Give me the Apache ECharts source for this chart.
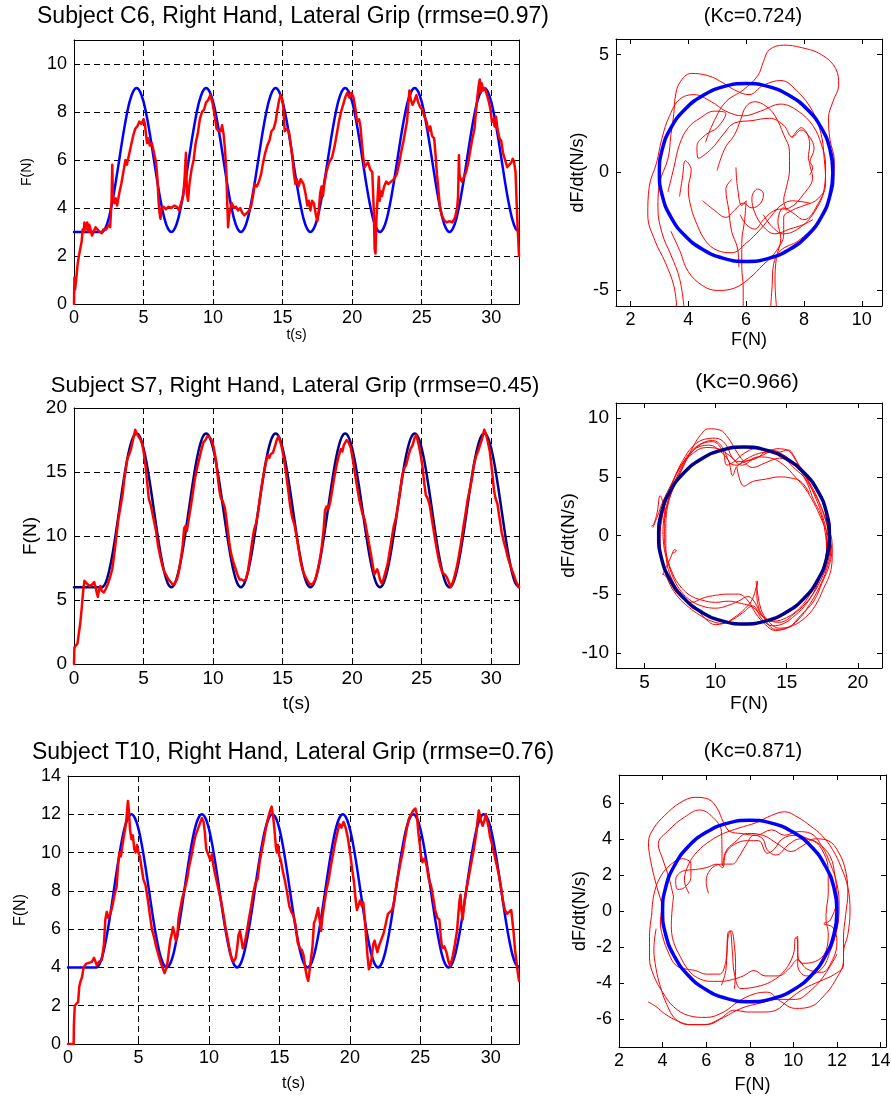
<!DOCTYPE html>
<html>
<head>
<meta charset="utf-8">
<title>Grip force tracking</title>
<script src="https://cdn.jsdelivr.net/npm/echarts@6/dist/echarts.min.js"></script>
<style>
  html, body { margin: 0; padding: 0; background: #fff; }
  #chart { width: 891px; height: 1101px; }
</style>
</head>
<body>
<div id="chart"></div>
<script>
// ---------- data ----------
const timeStep = 0.25; // sampling interval of the target traces (s)

// Target force, subject C6 (N), sampled every timeStep from t = 0
const targetC6 = [
  3,3,3,3,3,3,3,3,
  3,3.15,3.57,4.24,5.07,6,6.93,7.76,8.43,8.85,9,8.85,8.43,7.76,6.93,6,5.07,4.24,3.57,3.15,
  3,3.15,3.57,4.24,5.07,6,6.93,7.76,8.43,8.85,9,8.85,8.43,7.76,6.93,6,5.07,4.24,3.57,3.15,
  3,3.15,3.57,4.24,5.07,6,6.93,7.76,8.43,8.85,9,8.85,8.43,7.76,6.93,6,5.07,4.24,3.57,3.15,
  3,3.15,3.57,4.24,5.07,6,6.93,7.76,8.43,8.85,9,8.85,8.43,7.76,6.93,6,5.07,4.24,3.57,3.15,
  3,3.15,3.57,4.24,5.07,6,6.93,7.76,8.43,8.85,9,8.85,8.43,7.76,6.93,6,5.07,4.24,3.57,3.15,
  3,3.15,3.57,4.24,5.07,6,6.93,7.76,8.43,8.85,9,8.85,8.43,7.76,6.93,6,5.07,4.24,3.57,3.15,
  3
];
// Measured force, subject C6: [t (s), F (N)]
const forceC6 = [
  [0,0],[0.03,1.1],[0.08,0.6],[0.15,1.0],[0.25,1.6],[0.35,2.0],[0.45,2.3],[0.55,2.6],[0.62,3.1],[0.7,3.0],[0.75,3.4],[0.85,3.1],[0.95,3.4],[1.05,3.0],[1.1,3.3],[1.2,3.1],[1.3,2.85],[1.4,3.0],[1.55,3.2],[1.7,3.1],[1.85,3.0],[2.0,2.95],[2.1,3.1],[2.3,3.1],[2.5,3.3],[2.6,3.2],[2.7,4.3],[2.75,5.8],[2.8,4.5],[2.9,4.2],[3.0,4.4],[3.1,4.1],[3.25,4.6],[3.4,5.0],[3.55,5.5],[3.7,6.0],[3.8,5.8],[3.95,6.2],[4.1,6.6],[4.25,7.0],[4.4,7.3],[4.55,7.4],[4.7,7.6],[4.85,7.5],[5.0,7.7],[5.1,7.5],[5.15,7.2],[5.25,6.7],[5.35,6.9],[5.45,6.6],[5.6,6.7],[5.75,6.3],[5.9,5.9],[6.0,5.2],[6.08,4.3],[6.15,3.8],[6.22,3.55],[6.3,4.0],[6.45,4.05],[6.6,3.95],[6.8,4.05],[7.0,4.0],[7.2,4.1],[7.4,4.05],[7.55,3.9],[7.7,4.2],[7.85,4.5],[7.95,5.2],[8.05,6.3],[8.12,4.6],[8.2,4.3],[8.3,5.0],[8.45,5.6],[8.6,6.0],[8.75,6.7],[8.9,7.1],[9.05,7.7],[9.2,8.0],[9.35,8.1],[9.5,8.4],[9.65,8.5],[9.8,8.7],[9.95,8.4],[10.1,7.9],[10.25,7.3],[10.4,7.2],[10.55,7.2],[10.65,7.45],[10.75,7.1],[10.85,6.5],[10.95,5.6],[11.02,4.2],[11.08,3.2],[11.15,3.7],[11.25,4.0],[11.35,4.2],[11.5,4.0],[11.65,4.05],[11.8,3.9],[11.95,4.0],[12.1,3.8],[12.25,3.7],[12.45,3.8],[12.6,3.9],[12.75,4.1],[12.9,4.6],[13.0,5.0],[13.15,4.9],[13.3,5.1],[13.45,5.4],[13.6,5.9],[13.75,6.3],[13.9,6.6],[14.05,6.8],[14.2,7.2],[14.35,7.3],[14.5,7.6],[14.6,8.0],[14.75,8.5],[14.85,8.7],[14.95,8.6],[15.05,8.2],[15.15,7.2],[15.3,7.3],[15.45,7.2],[15.6,6.6],[15.72,6.0],[15.82,5.4],[15.92,5.0],[16.02,5.2],[16.15,4.9],[16.3,5.2],[16.5,5.0],[16.65,4.6],[16.78,4.1],[16.88,4.3],[17.0,3.9],[17.12,4.3],[17.25,4.2],[17.4,3.7],[17.5,3.45],[17.6,3.9],[17.7,4.6],[17.8,4.9],[17.9,4.5],[18.0,5.0],[18.15,5.5],[18.35,5.9],[18.55,6.1],[18.75,6.6],[18.9,7.1],[19.05,7.6],[19.2,8.0],[19.35,8.3],[19.5,8.6],[19.65,8.8],[19.8,8.6],[19.95,8.8],[20.1,8.6],[20.25,8.1],[20.35,7.6],[20.5,7.7],[20.6,7.4],[20.7,6.7],[20.8,6.1],[20.9,5.7],[21.0,5.8],[21.15,5.9],[21.3,5.6],[21.45,5.5],[21.55,4.0],[21.62,2.3],[21.68,2.1],[21.75,3.6],[21.85,4.6],[21.92,5.3],[21.98,4.3],[22.05,4.7],[22.15,4.5],[22.3,4.9],[22.45,5.1],[22.6,5.0],[22.8,5.1],[23.0,5.2],[23.2,5.4],[23.4,5.9],[23.55,6.4],[23.7,6.8],[23.85,7.3],[23.95,7.6],[24.05,8.4],[24.12,8.9],[24.22,8.5],[24.35,8.3],[24.5,8.5],[24.62,8.7],[24.75,8.4],[24.9,8.2],[25.05,8.1],[25.2,7.8],[25.35,7.6],[25.5,7.2],[25.62,7.4],[25.75,7.0],[25.9,6.9],[26.0,6.2],[26.1,5.4],[26.2,4.8],[26.3,4.1],[26.45,3.7],[26.6,3.5],[26.8,3.4],[27.0,3.45],[27.2,3.4],[27.4,3.6],[27.55,4.0],[27.62,4.5],[27.68,6.2],[27.72,5.4],[27.8,5.2],[27.9,5.1],[28.05,5.3],[28.2,5.5],[28.35,5.9],[28.5,6.4],[28.65,6.9],[28.8,7.3],[28.9,8.0],[29.0,8.6],[29.1,9.1],[29.18,9.35],[29.25,8.8],[29.32,9.2],[29.42,8.9],[29.55,9.0],[29.65,8.8],[29.8,8.5],[29.95,8.1],[30.05,7.6],[30.15,7.7],[30.25,7.4],[30.35,7.8],[30.45,7.3],[30.6,6.9],[30.72,6.8],[30.85,6.3],[31.0,6.0],[31.15,5.7],[31.3,5.8],[31.45,5.9],[31.55,6.05],[31.65,5.9],[31.75,5.5],[31.82,4.4],[31.9,3.2],[31.96,2.5],[32,2.0]
];

// Target force, subject S7 (N)
const targetS7 = [
  6,6,6,6,6,6,6,6,
  6,6.29,7.15,8.47,10.15,12,13.85,15.53,16.85,17.71,18,17.71,16.85,15.53,13.85,12,10.15,8.47,7.15,6.29,
  6,6.29,7.15,8.47,10.15,12,13.85,15.53,16.85,17.71,18,17.71,16.85,15.53,13.85,12,10.15,8.47,7.15,6.29,
  6,6.29,7.15,8.47,10.15,12,13.85,15.53,16.85,17.71,18,17.71,16.85,15.53,13.85,12,10.15,8.47,7.15,6.29,
  6,6.29,7.15,8.47,10.15,12,13.85,15.53,16.85,17.71,18,17.71,16.85,15.53,13.85,12,10.15,8.47,7.15,6.29,
  6,6.29,7.15,8.47,10.15,12,13.85,15.53,16.85,17.71,18,17.71,16.85,15.53,13.85,12,10.15,8.47,7.15,6.29,
  6,6.29,7.15,8.47,10.15,12,13.85,15.53,16.85,17.71,18,17.71,16.85,15.53,13.85,12,10.15,8.47,7.15,6.29,
  6
];
// Measured force, subject S7: [t (s), F (N)]
const forceS7 = [
  [0,0],[0.03,1.3],[0.12,1.35],[0.25,1.6],[0.35,2.4],[0.45,3.2],[0.55,4.3],[0.65,5.6],[0.75,6.5],[0.85,6.45],[1.0,6.2],[1.15,6.1],[1.3,6.2],[1.45,6.4],[1.55,6.0],[1.65,5.5],[1.72,5.25],[1.8,5.8],[1.9,6.1],[2.0,5.7],[2.15,5.6],[2.3,5.9],[2.45,6.3],[2.6,6.8],[2.75,7.4],[2.9,8.6],[3.05,10.0],[3.2,11.4],[3.35,12.3],[3.5,13.3],[3.62,14.5],[3.75,15.4],[3.85,16.1],[3.98,16.4],[4.1,16.8],[4.2,17.3],[4.3,17.8],[4.4,18.3],[4.5,18.0],[4.62,17.8],[4.75,17.6],[4.9,17.2],[5.02,16.5],[5.15,15.4],[5.28,14.0],[5.38,12.9],[5.5,12.5],[5.62,11.9],[5.75,11.2],[5.9,10.4],[6.05,9.2],[6.2,8.4],[6.35,7.7],[6.5,7.2],[6.65,6.9],[6.8,6.6],[6.95,6.4],[7.1,6.2],[7.25,6.3],[7.4,6.6],[7.55,7.3],[7.7,8.3],[7.82,9.3],[7.92,10.6],[8.02,10.8],[8.12,10.4],[8.25,11.3],[8.4,12.3],[8.55,13.4],[8.7,14.5],[8.85,15.3],[9.0,16.0],[9.15,16.7],[9.3,17.3],[9.45,17.5],[9.6,17.8],[9.75,17.7],[9.9,17.5],[10.05,16.9],[10.2,16.0],[10.32,14.8],[10.45,13.6],[10.55,13.0],[10.7,12.7],[10.85,12.2],[11.0,11.0],[11.15,9.6],[11.3,8.6],[11.45,8.0],[11.6,7.5],[11.75,7.0],[11.9,6.6],[12.05,6.6],[12.2,6.5],[12.35,6.6],[12.5,7.2],[12.65,8.3],[12.8,9.5],[12.95,10.5],[13.1,11.0],[13.25,12.0],[13.4,13.2],[13.55,14.3],[13.7,15.2],[13.85,16.0],[13.95,16.3],[14.05,16.1],[14.15,16.4],[14.3,16.5],[14.45,17.0],[14.55,17.4],[14.7,17.8],[14.82,17.4],[14.95,16.9],[15.1,16.0],[15.25,14.9],[15.4,13.6],[15.55,12.3],[15.7,11.4],[15.85,10.9],[16.0,10.0],[16.15,9.0],[16.3,8.0],[16.45,7.3],[16.6,6.9],[16.75,6.6],[16.9,6.3],[17.05,6.2],[17.2,6.3],[17.35,6.6],[17.5,7.2],[17.65,8.0],[17.8,9.0],[17.95,10.5],[18.05,12.0],[18.15,12.3],[18.3,12.1],[18.45,12.8],[18.6,13.8],[18.75,14.8],[18.9,15.6],[19.05,16.3],[19.2,16.8],[19.3,16.6],[19.4,17.1],[19.5,17.3],[19.6,17.5],[19.75,17.3],[19.9,16.9],[20.05,16.0],[20.2,14.9],[20.35,13.9],[20.5,12.9],[20.62,12.3],[20.75,11.7],[20.9,11.3],[21.05,10.4],[21.2,9.5],[21.35,8.6],[21.5,7.6],[21.6,7.0],[21.7,6.9],[21.8,7.4],[21.9,7.1],[22.0,6.6],[22.12,6.3],[22.25,6.6],[22.4,7.2],[22.55,7.8],[22.7,8.8],[22.85,9.8],[23.0,10.8],[23.15,11.4],[23.3,12.4],[23.45,13.5],[23.6,14.7],[23.75,15.3],[23.9,15.6],[24.05,16.3],[24.2,16.8],[24.35,17.1],[24.5,17.7],[24.62,17.9],[24.75,17.3],[24.9,16.5],[25.05,15.5],[25.2,14.0],[25.3,13.2],[25.45,12.9],[25.6,12.3],[25.75,11.2],[25.9,10.2],[26.05,9.2],[26.2,8.3],[26.35,7.6],[26.5,7.1],[26.65,7.0],[26.8,6.8],[26.95,6.4],[27.1,6.0],[27.25,6.4],[27.4,7.0],[27.55,7.7],[27.7,8.6],[27.85,9.6],[28.0,10.7],[28.15,11.7],[28.3,12.8],[28.45,13.6],[28.6,14.4],[28.75,15.5],[28.9,16.2],[29.05,16.6],[29.2,17.1],[29.35,17.6],[29.5,18.3],[29.62,18.0],[29.75,17.4],[29.9,16.6],[30.05,15.2],[30.2,13.6],[30.3,13.0],[30.45,12.5],[30.6,11.4],[30.75,10.3],[30.9,9.6],[31.05,9.0],[31.2,8.3],[31.35,7.8],[31.5,7.3],[31.65,6.9],[31.8,6.4],[32,6.0]
];

// Target force, subject T10 (N)
const targetT10 = [
  4,4,4,4,4,4,4,4,
  4,4.2,4.76,5.65,6.76,8,9.24,10.35,11.24,11.8,12,11.8,11.24,10.35,9.24,8,6.76,5.65,4.76,4.2,
  4,4.2,4.76,5.65,6.76,8,9.24,10.35,11.24,11.8,12,11.8,11.24,10.35,9.24,8,6.76,5.65,4.76,4.2,
  4,4.2,4.76,5.65,6.76,8,9.24,10.35,11.24,11.8,12,11.8,11.24,10.35,9.24,8,6.76,5.65,4.76,4.2,
  4,4.2,4.76,5.65,6.76,8,9.24,10.35,11.24,11.8,12,11.8,11.24,10.35,9.24,8,6.76,5.65,4.76,4.2,
  4,4.2,4.76,5.65,6.76,8,9.24,10.35,11.24,11.8,12,11.8,11.24,10.35,9.24,8,6.76,5.65,4.76,4.2,
  4,4.2,4.76,5.65,6.76,8,9.24,10.35,11.24,11.8,12,11.8,11.24,10.35,9.24,8,6.76,5.65,4.76,4.2,
  4
];
// Measured force, subject T10: [t (s), F (N)]
const forceT10 = [
  [0,0],[0.4,0],[0.42,1.0],[0.48,2.0],[0.6,2.1],[0.72,2.2],[0.8,3.0],[0.9,3.3],[1.0,3.5],[1.1,4.0],[1.2,3.9],[1.3,4.2],[1.4,4.1],[1.55,4.25],[1.7,4.3],[1.85,4.5],[1.95,4.3],[2.05,4.1],[2.2,4.3],[2.4,4.4],[2.55,5.2],[2.65,6.5],[2.75,6.9],[2.85,6.6],[3.0,6.8],[3.15,7.2],[3.3,7.8],[3.45,8.2],[3.55,9.3],[3.65,10.0],[3.75,9.8],[3.85,10.3],[3.95,10.8],[4.05,11.2],[4.15,11.8],[4.25,12.7],[4.32,12.2],[4.4,11.2],[4.5,10.7],[4.6,10.9],[4.7,10.2],[4.8,10.0],[4.9,10.4],[5.0,10.0],[5.1,9.8],[5.2,9.3],[5.35,8.6],[5.5,8.3],[5.65,7.6],[5.8,6.8],[5.95,6.0],[6.1,5.6],[6.25,5.1],[6.4,4.7],[6.55,4.3],[6.7,4.0],[6.85,3.7],[6.95,3.9],[7.05,4.2],[7.15,4.8],[7.25,5.4],[7.35,5.7],[7.45,6.1],[7.55,5.8],[7.65,5.4],[7.75,5.6],[7.85,6.6],[7.95,7.0],[8.1,7.6],[8.25,8.0],[8.45,8.6],[8.6,9.3],[8.75,9.8],[8.9,10.4],[9.05,10.9],[9.2,11.2],[9.35,11.5],[9.5,11.8],[9.62,11.6],[9.72,11.0],[9.8,10.2],[9.9,10.0],[10.0,9.8],[10.1,9.6],[10.2,9.9],[10.3,9.4],[10.4,9.0],[10.55,8.5],[10.7,8.0],[10.85,7.5],[11.0,6.9],[11.15,6.2],[11.3,5.6],[11.45,5.0],[11.6,4.5],[11.75,4.3],[11.9,4.5],[12.0,5.0],[12.1,5.7],[12.2,5.9],[12.3,5.5],[12.4,5.0],[12.55,5.3],[12.7,5.9],[12.85,6.6],[13.0,7.2],[13.15,7.9],[13.3,8.4],[13.45,8.6],[13.6,9.5],[13.75,10.1],[13.9,10.7],[14.05,11.3],[14.2,11.8],[14.35,12.2],[14.45,12.4],[14.55,11.9],[14.65,11.2],[14.75,10.3],[14.82,10.0],[14.9,10.4],[15.0,9.8],[15.1,9.6],[15.25,9.0],[15.4,8.5],[15.55,7.9],[15.7,7.2],[15.85,6.9],[16.0,6.7],[16.15,6.2],[16.3,5.3],[16.45,5.0],[16.6,4.9],[16.72,4.6],[16.85,3.9],[16.95,3.5],[17.05,3.3],[17.15,3.9],[17.25,4.5],[17.35,5.1],[17.45,6.3],[17.55,6.5],[17.65,6.8],[17.75,7.1],[17.85,6.5],[17.95,5.9],[18.05,6.6],[18.2,7.4],[18.35,8.1],[18.5,8.6],[18.65,9.3],[18.8,9.9],[18.95,10.5],[19.1,11.0],[19.25,11.5],[19.4,11.3],[19.55,11.6],[19.7,11.3],[19.85,10.8],[19.95,10.3],[20.05,9.8],[20.15,9.2],[20.3,8.4],[20.4,7.6],[20.5,7.0],[20.6,6.9],[20.72,7.5],[20.85,7.2],[20.95,7.4],[21.05,6.6],[21.15,5.6],[21.25,4.6],[21.35,3.9],[21.45,4.1],[21.55,4.5],[21.65,5.2],[21.75,5.4],[21.85,5.1],[21.95,4.8],[22.1,5.2],[22.25,5.5],[22.4,5.8],[22.55,6.3],[22.7,6.8],[22.85,6.9],[23.0,7.0],[23.15,7.5],[23.3,8.3],[23.45,8.9],[23.6,9.5],[23.75,10.0],[23.9,10.7],[24.05,11.3],[24.2,11.8],[24.35,12.0],[24.5,12.2],[24.65,12.3],[24.75,12.0],[24.85,11.1],[24.95,10.5],[25.05,9.8],[25.15,9.5],[25.3,9.7],[25.45,9.3],[25.6,8.6],[25.75,8.3],[25.9,7.7],[26.05,7.0],[26.2,6.6],[26.35,6.5],[26.45,5.6],[26.55,5.0],[26.7,5.1],[26.85,4.8],[27.0,4.3],[27.1,4.1],[27.2,4.3],[27.3,4.6],[27.45,5.2],[27.6,5.9],[27.7,6.8],[27.78,7.5],[27.85,7.8],[27.92,7.0],[28.0,6.5],[28.1,7.2],[28.2,7.8],[28.35,8.4],[28.5,9.0],[28.65,9.6],[28.8,10.2],[28.95,10.9],[29.05,11.6],[29.15,12.2],[29.22,12.3],[29.32,11.6],[29.42,11.4],[29.55,11.7],[29.65,12.0],[29.75,11.9],[29.85,11.3],[29.95,10.8],[30.1,10.4],[30.25,9.9],[30.4,9.4],[30.55,8.9],[30.7,8.3],[30.85,7.5],[31.0,7.0],[31.15,6.8],[31.3,6.9],[31.45,7.0],[31.55,6.9],[31.62,5.8],[31.72,4.9],[31.82,4.3],[31.92,3.7],[32,3.3]
];

// Target trajectories in the phase plane: [F (N), dF/dt (N/s)]
const targetPhaseC6 = [
  [8.90,-0.98],[9,0],[8.90,0.98],[8.60,1.89],[8.12,2.67],[7.5,3.26],[6.78,3.64],[6,3.77],[5.22,3.64],[4.5,3.26],[3.88,2.67],[3.40,1.89],[3.10,0.98],
  [3,0],[3.10,-0.98],[3.40,-1.89],[3.88,-2.67],[4.5,-3.26],[5.22,-3.64],[6,-3.77],[6.78,-3.64],[7.5,-3.26],[8.12,-2.67],[8.60,-1.89],[8.90,-0.98],[9,0],[8.90,0.98]
];
const targetPhaseS7 = [
  [17.80,-1.95],[18,0],[17.80,1.95],[17.20,3.77],[16.24,5.33],[15,6.53],[13.55,7.28],[12,7.54],[10.45,7.28],[9,6.53],[7.76,5.33],[6.80,3.77],[6.20,1.95],
  [6,0],[6.20,-1.95],[6.80,-3.77],[7.76,-5.33],[9,-6.53],[10.45,-7.28],[12,-7.54],[13.55,-7.28],[15,-6.53],[16.24,-5.33],[17.20,-3.77],[17.80,-1.95],[18,0],[17.80,1.95]
];
const targetPhaseT10 = [
  [11.86,-1.30],[12,0],[11.86,1.30],[11.46,2.51],[10.83,3.56],[10,4.36],[9.04,4.86],[8,5.03],[6.96,4.86],[6,4.36],[5.17,3.56],[4.54,2.51],[4.14,1.30],
  [4,0],[4.14,-1.30],[4.54,-2.51],[5.17,-3.56],[6,-4.36],[6.96,-4.86],[8,-5.03],[9.04,-4.86],[10,-4.36],[10.83,-3.56],[11.46,-2.51],[11.86,-1.30],[12,0],[11.86,1.30]
];

// Measured trajectories in the phase plane, one array per traced stroke
const phaseC6 = [
  [[3.6,-5.7],[3.5,-4.8],[3.2,-3.8],[2.85,-2.9],[2.6,-1.8],[2.65,-0.6],[2.9,0.4],[3.1,1.5],[3.35,2.4],[3.7,3.1],[4.2,3.3],[4.8,3.0],[5.3,2.6],[5.9,2.4],[6.5,2.6],[7.2,2.9],[7.8,2.6],[8.3,2.0],[8.6,1.2],[8.75,0.3],[8.7,-0.7],[8.4,-1.6],[7.9,-2.3],[7.3,-2.6],[6.9,-2.3],[6.6,-1.8]],
  [[4.6,1.3],[4.9,2.2],[5.3,3.0],[5.9,3.5],[6.4,4.1],[6.6,4.7],[6.8,5.2],[7.3,5.4],[7.9,5.3],[8.6,5.0],[9.1,4.4],[9.2,3.7],[9.0,3.0],[8.85,2.3],[8.9,1.4],[9.05,0.5],[9.0,-0.5],[8.8,-1.4],[8.4,-2.2],[7.8,-2.9],[7.2,-3.3],[6.95,-3.9],[6.9,-4.8],[6.85,-5.7]],
  [[3.3,-0.8],[3.5,0.2],[3.7,1.2],[4.0,1.9],[4.4,2.3],[4.9,2.6],[5.3,2.5],[5.0,1.9],[4.6,1.6],[4.3,1.1],[4.35,0.6],[4.8,1.0],[5.2,1.6],[5.6,2.1],[6.2,2.2],[6.8,2.3],[7.3,2.0],[7.6,1.5],[7.9,1.8],[8.2,1.5],[8.35,1.0],[8.2,0.4],[8.3,-0.2],[8.0,-0.9],[7.5,-1.5],[7.0,-1.6],[6.6,-2.0],[6.3,-2.4],[6.0,-2.2],[5.8,-1.8]],
  [[3.85,-5.7],[3.7,-4.5],[3.4,-3.5],[3.1,-2.6],[2.95,-1.5],[3.0,-0.5],[3.3,0.6],[3.4,1.6],[3.5,2.5],[3.55,3.2],[3.7,3.8],[4.1,4.2],[4.7,4.1],[5.2,3.8],[5.6,3.5],[6.1,3.3],[6.6,3.7],[7.2,3.9],[7.8,3.4],[8.3,2.6],[8.6,1.6],[8.7,0.6],[8.75,-0.4],[8.5,-1.3],[8.0,-2.0],[7.6,-1.7],[7.3,-1.5],[7.1,-2.1],[7.2,-2.8],[7.05,-3.6],[7.0,-4.6],[7.05,-5.7]],
  [[8.2,-1.3],[7.6,-1.2],[7.2,-1.4],[6.9,-1.8],[6.5,-2.4],[6.0,-3.0],[5.5,-3.4],[5.0,-3.3],[4.6,-2.9],[4.3,-2.2],[4.1,-1.5],[4.0,-0.7],[4.1,0.1],[3.9,0.5],[3.8,-0.2],[3.7,-1.0]],
  [[3.4,-2.5],[3.7,-3.3],[4.0,-4.2],[4.5,-4.8],[5.0,-5.0],[5.6,-4.9],[6.1,-4.5],[6.6,-3.9],[7.0,-3.4],[7.3,-2.6],[7.3,-1.9],[7.6,-1.6],[8.0,-1.4],[8.4,-1.2],[8.7,-0.8]],
  [[5.0,0.1],[5.1,0.5],[5.3,1.1],[5.6,1.6],[5.8,2.2],[6.0,2.8],[6.3,3.0],[6.7,2.8],[7.0,2.4],[7.3,1.6],[7.5,0.9],[7.5,0.1],[7.4,-0.6],[7.3,-1.2],[7.4,-1.6]],
  [[5.65,0.2],[5.7,-0.6],[5.85,-1.4],[6.0,-1.2],[5.95,-2.0],[5.85,-3.0],[5.85,-4.0],[5.9,-4.9],[5.9,-5.7]],
  [[4.5,-1.2],[4.9,-1.6],[5.3,-1.9],[5.6,-1.6],[5.9,-1.3],[6.2,-1.5],[6.5,-1.3],[6.6,-0.9],[6.4,-0.7],[6.2,-1.1],[6.3,-1.7],[6.6,-2.3],[7.0,-2.6],[7.5,-2.4],[8.0,-2.2],[8.3,-2.0]],
  [[5.5,-0.3],[5.3,-0.7],[5.4,-1.6],[5.5,-2.5],[5.7,-3.2],[5.75,-4.0]],
  [[7.6,1.5],[7.9,1.9],[8.2,1.2],[8.15,0.6],[8.3,0.2],[8.2,-0.1]]
];

const phaseS7 = [
  [[5.5,0.8],[5.65,0.95],[5.9,2.0],[6.1,3.4],[6.35,2.6],[6.5,1.5]],
  [[5.6,0.7],[5.9,1.6],[6.3,2.9],[6.9,4.4],[7.6,6.0],[8.3,7.2],[9.1,7.9],[9.8,8.1],[10.5,7.5],[11.0,6.2],[11.5,6.0],[12.0,6.4],[12.8,6.9],[13.6,7.1],[14.5,7.0],[15.3,6.4],[16.0,5.5],[16.7,4.3],[17.3,2.8],[17.8,1.0],[18.1,-0.6],[17.9,-2.2],[17.4,-3.8],[16.6,-5.4],[15.6,-6.6],[14.5,-7.4],[13.4,-7.0],[12.7,-5.6],[12.3,-5.2],[11.6,-5.6],[10.8,-6.0],[10.0,-6.2],[9.0,-6.0],[8.2,-5.5],[7.6,-4.8],[7.1,-3.8],[6.7,-2.5],[6.4,-1.2],[6.3,0.2]],
  [[6.3,0.2],[6.4,1.8],[6.8,3.5],[7.4,5.3],[8.1,6.8],[8.9,7.6],[9.6,7.7],[10.3,7.2],[10.9,6.4],[11.2,5.1],[11.5,5.9],[12.1,6.3],[12.9,6.6],[13.8,7.3],[14.6,7.0],[15.4,5.9],[16.2,5.0],[16.8,3.9],[17.4,2.5],[17.9,0.8],[18.2,-0.8],[18.0,-2.5],[17.5,-4.0],[16.9,-5.6],[16.0,-6.8],[15.0,-7.9],[14.2,-8.0],[13.5,-7.2],[13.0,-6.0],[12.9,-4.8],[12.95,-3.9],[12.6,-5.4],[12.1,-6.2],[11.3,-7.0],[10.5,-7.5],[9.7,-7.3],[8.9,-6.8],[8.1,-6.1],[7.4,-5.3],[6.8,-4.2],[6.4,-2.9],[6.15,-1.4],[6.1,0.0]],
  [[6.1,0.0],[6.2,1.6],[6.6,3.2],[7.1,4.9],[7.7,6.4],[8.4,7.6],[9.2,8.2],[10.0,8.3],[10.7,7.8],[11.2,6.6],[11.9,6.0],[12.6,6.5],[13.4,6.9],[14.3,7.4],[15.0,7.3],[15.7,6.3],[16.4,4.9],[17.0,3.3],[17.5,1.7],[17.8,0.0],[17.8,-1.8],[17.3,-3.5],[16.7,-4.9],[15.9,-6.2],[15.0,-7.0],[14.1,-7.3],[13.3,-6.9],[12.6,-6.1],[11.8,-5.8],[10.9,-5.6],[10.0,-5.7],[9.0,-5.5],[8.2,-5.1],[7.5,-4.3],[7.0,-3.3],[6.6,-1.9],[6.4,-0.6]],
  [[6.4,-0.6],[6.4,1.0],[6.6,2.6],[7.1,4.2],[7.7,5.8],[8.3,7.3],[8.9,8.5],[9.5,9.1],[10.3,9.0],[10.9,8.3],[11.4,7.3],[12.0,6.3],[12.6,5.8],[13.5,6.2],[14.5,6.6],[15.3,6.2],[16.1,5.3],[16.8,4.5],[17.3,3.6],[17.7,2.2],[18.0,0.5],[18.1,-1.2],[17.8,-2.9],[17.3,-4.4],[16.6,-5.9],[15.8,-7.2],[15.0,-7.9],[14.2,-8.1],[13.5,-7.6],[12.8,-6.6],[12.3,-5.6],[11.6,-5.0],[10.8,-5.0],[10.0,-5.1],[9.2,-5.3],[8.3,-5.7],[7.6,-5.0],[7.0,-3.9],[6.6,-2.5],[6.5,-1.0]],
  [[6.5,-1.0],[6.5,0.6],[6.6,2.3],[7.0,4.0],[7.6,5.6],[8.2,6.9],[9.0,7.8],[9.8,8.0],[10.5,7.2],[10.8,6.0],[11.3,6.3],[12.0,7.0],[12.8,7.4],[13.6,7.2],[14.4,7.1],[15.1,7.3],[15.5,6.8],[16.0,5.5],[16.5,4.3],[16.9,3.0],[17.4,1.8],[17.7,0.3],[17.8,-1.3],[17.5,-3.0],[17.0,-4.6],[16.4,-5.8],[15.6,-6.8],[14.8,-7.5],[14.0,-7.7],[13.3,-7.2],[12.6,-6.0],[11.9,-6.6],[11.0,-7.3],[10.0,-7.6],[9.2,-7.0],[8.6,-6.1],[7.9,-5.6],[7.2,-4.8],[6.6,-3.6],[6.3,-3.3]],
  [[6.0,-0.3],[6.2,1.2],[6.5,2.9],[7.0,4.6],[7.6,6.0],[8.4,7.0],[9.3,7.5],[10.2,7.4],[11.0,6.8],[11.6,6.3],[12.3,6.4],[13.0,6.7],[13.9,6.6],[14.8,6.0],[15.6,5.0],[16.3,4.0],[16.9,2.8],[17.4,1.5],[17.9,0.0],[18.2,-1.5],[18.1,-3.0],[17.6,-4.5],[17.0,-6.0],[16.3,-7.0],[15.4,-7.7],[14.5,-7.9],[13.7,-7.3],[13.2,-6.3],[12.9,-4.5],[12.85,-3.9]],
  [[11.5,5.8],[12.0,4.2],[12.6,4.6],[13.5,4.8],[14.5,5.0],[15.3,4.9],[16.0,4.6],[16.6,3.6]],
  [[6.3,-3.3],[6.8,-2.0],[7.15,-1.2],[7.25,-1.3],[7.0,-1.5]]
];

const phaseT10 = [
  [[4.0,0.3],[3.7,1.5],[3.45,2.8],[3.35,3.8],[3.6,4.6],[4.1,5.3],[4.8,6.0],[5.5,6.3],[6.1,6.2],[6.5,5.7],[6.8,4.9],[7.1,4.4],[7.6,4.3],[8.3,4.2],[9.0,4.5],[9.6,4.2],[10.2,4.4],[10.8,4.3],[11.3,3.6],[11.7,2.6],[12.0,1.5],[12.1,0.3],[12.0,-1.0],[11.7,-2.2],[11.3,-3.2],[10.6,-3.6],[10.2,-3.0],[10.2,-1.6],[10.1,-1.5],[10.0,-2.4],[9.6,-3.3],[9.0,-3.9],[8.3,-4.2],[7.6,-4.3],[7.3,-3.5],[7.2,-2.2],[7.1,-1.1],[7.0,-1.5],[6.9,-2.8],[6.6,-3.5],[6.0,-3.5],[5.5,-3.3],[5.0,-3.2],[4.6,-3.0],[4.3,-2.4],[4.0,-1.4],[3.9,-0.6],[4.0,0.3]],
  [[4.5,0.8],[4.3,1.8],[4.0,2.9],[3.8,3.7],[4.3,4.5],[5.0,5.2],[5.7,5.6],[6.3,5.2],[6.7,4.4],[6.75,2.5],[6.9,3.3],[7.3,3.8],[7.9,4.3],[8.6,4.2],[9.3,3.7],[9.9,3.3],[10.4,3.6],[11.0,4.0],[11.6,3.9],[12.1,3.2],[12.4,2.2],[12.5,1.0],[12.4,-0.2],[12.3,-1.5],[12.3,-2.7],[11.9,-3.9],[11.4,-4.7],[10.8,-5.3],[10.1,-5.4],[9.4,-5.0],[8.8,-4.5],[8.2,-4.6],[7.5,-5.0],[6.8,-5.6],[6.0,-5.9],[5.2,-5.8],[4.5,-5.3],[4.0,-4.5],[3.6,-3.6],[3.4,-2.6],[3.4,-1.4],[3.5,-0.2]],
  [[3.5,-0.2],[3.6,0.9],[3.9,1.9],[4.4,2.6],[4.9,2.9],[5.3,2.6],[5.3,1.9],[5.0,1.3],[4.7,1.2],[4.6,1.7],[4.9,2.2],[5.5,2.3],[6.0,2.4],[6.5,2.6],[6.75,2.4],[6.9,3.2],[7.3,3.7],[7.9,3.9],[8.4,3.9],[8.8,3.2],[9.1,3.4],[9.5,4.0],[10.1,4.2],[10.7,4.0],[11.2,3.7],[11.7,3.0],[11.9,2.0],[12.0,0.8],[11.7,-0.5],[11.4,-0.7],[11.8,-0.9],[12.0,-1.7],[11.8,-2.7],[11.3,-3.4],[10.6,-3.2],[10.2,-2.7],[9.8,-3.2],[9.3,-3.6],[8.7,-3.6],[8.2,-3.3],[7.7,-3.6],[7.2,-3.8],[6.7,-3.9],[6.2,-3.9],[5.6,-3.7],[5.2,-3.3],[4.8,-2.5],[4.5,-1.7],[4.4,-0.8],[4.5,0.8]],
  [[5.2,1.0],[5.0,1.7],[5.2,2.6],[5.6,3.3],[6.2,3.9],[6.8,4.3],[7.5,4.6],[8.3,4.9],[9.0,5.3],[9.6,5.5],[10.2,5.2],[10.8,4.7],[11.3,4.2],[11.8,3.4],[12.2,2.4],[12.5,1.3],[12.6,0.0],[12.5,-1.3],[12.3,-2.3],[12.3,-3.0],[11.9,-3.5],[11.2,-3.9],[10.5,-4.3],[9.8,-4.9],[9.2,-5.5],[8.6,-5.6],[7.9,-5.6],[7.3,-5.5],[6.6,-6.0],[5.9,-6.3],[5.2,-6.3],[4.6,-6.0],[4.2,-5.2],[3.9,-4.2],[3.7,-3.2],[3.6,-2.1],[3.7,-1.0]],
  [[6.1,1.0],[6.0,1.6],[6.2,2.3],[6.7,2.6],[7.2,2.6],[7.5,3.0],[7.8,3.6],[8.2,4.2],[8.6,4.0],[8.8,3.4],[9.2,3.1],[9.8,3.7],[10.3,4.0],[10.9,3.9],[11.4,3.2],[11.6,2.2],[11.6,1.0],[11.5,-0.2],[11.5,-0.5],[11.6,-1.2],[11.5,-2.2],[11.0,-2.8],[10.4,-2.9],[10.2,-2.3],[10.2,-1.4],[10.1,-1.5]],
  [[7.3,-4.3],[7.35,-3.2],[7.3,-2.0],[7.15,-1.1],[7.0,-1.2],[6.95,-2.2],[6.9,-3.3],[6.7,-4.1]],
  [[12.0,-2.4],[11.4,-3.6],[10.8,-4.4],[10.1,-4.9],[9.3,-4.9],[8.5,-5.1],[7.6,-5.4],[6.8,-5.9],[6.0,-6.3],[5.3,-6.3],[4.7,-6.1],[4.1,-5.7],[3.7,-5.3],[3.35,-5.05]]
];

// Tick values and text
const timeTicks = [0, 5, 10, 15, 20, 25, 30];
const forceTicksC6 = [0, 2, 4, 6, 8, 10];
const forceTicksS7 = [0, 5, 10, 15, 20];
const forceTicksT10 = [0, 2, 4, 6, 8, 10, 12, 14];
const phaseFTicksC6 = [2, 4, 6, 8, 10];
const phaseDTicksC6 = [-5, 0, 5];
const phaseFTicksS7 = [5, 10, 15, 20];
const phaseDTicksS7 = [-10, -5, 0, 5, 10];
const phaseFTicksT10 = [2, 4, 6, 8, 10, 12, 14];
const phaseDTicksT10 = [-6, -4, -2, 0, 2, 4, 6];

const trialTitles = [
  'Subject C6, Right Hand, Lateral Grip (rrmse=0.97)',
  'Subject S7, Right Hand, Lateral Grip (rrmse=0.45)',
  'Subject T10, Right Hand, Lateral Grip (rrmse=0.76)'
];
const kcTitles = ['(Kc=0.724)', '(Kc=0.966)', '(Kc=0.871)'];

// ---------- layout ----------
const FONT = "'Liberation Sans', Arial, Helvetica, sans-serif";
const RED = '#ff0000';

const rows = [
  {
    target: targetC6, force: forceC6, targetPhase: targetPhaseC6, phase: phaseC6,
    fTicks: forceTicksC6, pxTicks: phaseFTicksC6, pyTicks: phaseDTicksC6,
    title: trialTitles[0], kc: kcTitles[0], blue: '#0000ff',
    time: { left: 74, top: 40, width: 445, height: 264, yMin: 0, yMax: 11, yInterval: 2,
            tickFont: 18, nameFont: 14, xNameGap: 24, yNameGap: 40,
            titleX: 293, titleY: 5, titleFont: 23 },
    ph:   { left: 616, top: 39, width: 266, height: 267, xMin: 1.5, xMax: 10.7, yMin: -5.66, yMax: 5.66,
            tickFont: 18, nameFont: 18, xNameGap: 25, yNameGap: 29,
            titleX: 753, titleY: 6, titleFont: 20 }
  },
  {
    target: targetS7, force: forceS7, targetPhase: targetPhaseS7, phase: phaseS7,
    fTicks: forceTicksS7, pxTicks: phaseFTicksS7, pyTicks: phaseDTicksS7,
    title: trialTitles[1], kc: kcTitles[1], blue: '#000088',
    time: { left: 74, top: 408, width: 445, height: 256, yMin: 0, yMax: 20, yInterval: 5,
            tickFont: 19, nameFont: 19, xNameGap: 30, yNameGap: 34,
            titleX: 295, titleY: 375, titleFont: 22 },
    ph:   { left: 616, top: 403, width: 266, height: 265, xMin: 3, xMax: 21.7, yMin: -11.3, yMax: 11.3,
            tickFont: 19, nameFont: 19, xNameGap: 26, yNameGap: 38,
            titleX: 747, titleY: 372, titleFont: 21 }
  },
  {
    target: targetT10, force: forceT10, targetPhase: targetPhaseT10, phase: phaseT10,
    fTicks: forceTicksT10, pxTicks: phaseFTicksT10, pyTicks: phaseDTicksT10,
    title: trialTitles[2], kc: kcTitles[2], blue: '#0000ff',
    time: { left: 68, top: 776, width: 451, height: 268, yMin: 0, yMax: 14, yInterval: 2,
            tickFont: 18, nameFont: 16, xNameGap: 32, yNameGap: 39,
            titleX: 293, titleY: 741, titleFont: 23 },
    ph:   { left: 619, top: 775, width: 267, height: 272, xMin: 2, xMax: 14.25, yMin: -7.54, yMax: 7.54,
            tickFont: 18, nameFont: 18, xNameGap: 29, yNameGap: 30,
            titleX: 753, titleY: 741, titleFont: 20 }
  }
];

// ---------- option building ----------
const grid = [], xAxis = [], yAxis = [], series = [], title = [];

const axisLineStyle = { show: true, onZero: false, lineStyle: { color: '#000', width: 1 } };
function tickStyle(values) {
  return { show: true, inside: true, length: 5, customValues: values, lineStyle: { color: '#000', width: 1 } };
}
function nameStyle(size) {
  return { color: '#000', fontFamily: FONT, fontSize: size };
}

// One boxed panel: bottom/left axes carry labels, top/right mirror the ticks
function addPanel(box, xRange, yRange, xTicks, yTicks, xName, yName, dashedGrid, xInterval, yInterval) {
  const gi = grid.length;
  grid.push({ left: box.left, top: box.top, width: box.width, height: box.height,
              containLabel: false, outerBoundsMode: 'none', show: false });
  const split = { show: dashedGrid, lineStyle: { color: '#000', width: 1, type: [6, 4] } };
  const xi = xAxis.length;
  xAxis.push({
    type: 'value', gridIndex: gi, position: 'bottom', min: xRange[0], max: xRange[1], interval: xInterval,
    axisLine: axisLineStyle, axisTick: tickStyle(xTicks),
    axisLabel: { customValues: xTicks, color: '#000', fontFamily: FONT, fontSize: box.tickFont, margin: 5 },
    splitLine: split,
    name: xName, nameLocation: 'middle', nameGap: box.xNameGap, nameMoveOverlap: false,
    nameTextStyle: nameStyle(box.nameFont)
  });
  xAxis.push({
    type: 'value', gridIndex: gi, position: 'top', min: xRange[0], max: xRange[1], interval: xInterval,
    axisLine: axisLineStyle, axisTick: tickStyle(xTicks), axisLabel: { show: false }, splitLine: { show: false }
  });
  const yi = yAxis.length;
  yAxis.push({
    type: 'value', gridIndex: gi, position: 'left', min: yRange[0], max: yRange[1], interval: yInterval,
    axisLine: axisLineStyle, axisTick: tickStyle(yTicks),
    axisLabel: { customValues: yTicks, color: '#000', fontFamily: FONT, fontSize: box.tickFont, margin: 7 },
    splitLine: split,
    name: yName, nameLocation: 'middle', nameGap: box.yNameGap, nameRotate: 90, nameMoveOverlap: false,
    nameTextStyle: nameStyle(box.nameFont)
  });
  yAxis.push({
    type: 'value', gridIndex: gi, position: 'right', min: yRange[0], max: yRange[1], interval: yInterval,
    axisLine: axisLineStyle, axisTick: tickStyle(yTicks), axisLabel: { show: false }, splitLine: { show: false }
  });
  return { xi, yi };
}

function lineSeries(ax, data, color, width, z, smooth) {
  return {
    type: 'line', xAxisIndex: ax.xi, yAxisIndex: ax.yi, data,
    symbol: 'none', showSymbol: false, smooth: smooth || false, z, silent: true,
    lineStyle: { color, width, cap: 'round', join: 'round' }, clip: true
  };
}

rows.forEach(function (row) {
  // time course panel
  const t = row.time;
  const ta = addPanel(t, [0, 32], [t.yMin, t.yMax], timeTicks, row.fTicks, 't(s)', 'F(N)', true, 5, t.yInterval);
  series.push(lineSeries(ta, row.target.map(function (v, i) { return [i * timeStep, v]; }), row.blue, 2.5, 2, 0.3));
  series.push(lineSeries(ta, row.force, RED, 2.5, 3, false));
  title.push({ text: row.title, left: t.titleX, top: t.titleY, textAlign: 'center', padding: 0,
               textStyle: { color: '#000', fontFamily: FONT, fontWeight: 'normal', fontSize: t.titleFont } });

  // phase plane panel
  const p = row.ph;
  const pa = addPanel(p, [p.xMin, p.xMax], [p.yMin, p.yMax], row.pxTicks, row.pyTicks, 'F(N)', 'dF/dt(N/s)', false);
  row.phase.forEach(function (path) { series.push(lineSeries(pa, path, RED, 1, 2, 0.4)); });
  series.push(lineSeries(pa, row.targetPhase, row.blue, 3.5, 4, true));
  title.push({ text: row.kc, left: p.titleX, top: p.titleY, textAlign: 'center', padding: 0,
               textStyle: { color: '#000', fontFamily: FONT, fontWeight: 'normal', fontSize: p.titleFont } });
});

const chart = echarts.init(document.getElementById('chart'), null, { renderer: 'canvas' });
chart.setOption({
  backgroundColor: '#fff',
  animation: false,
  title, grid, xAxis, yAxis, series
});
</script>
</body>
</html>
